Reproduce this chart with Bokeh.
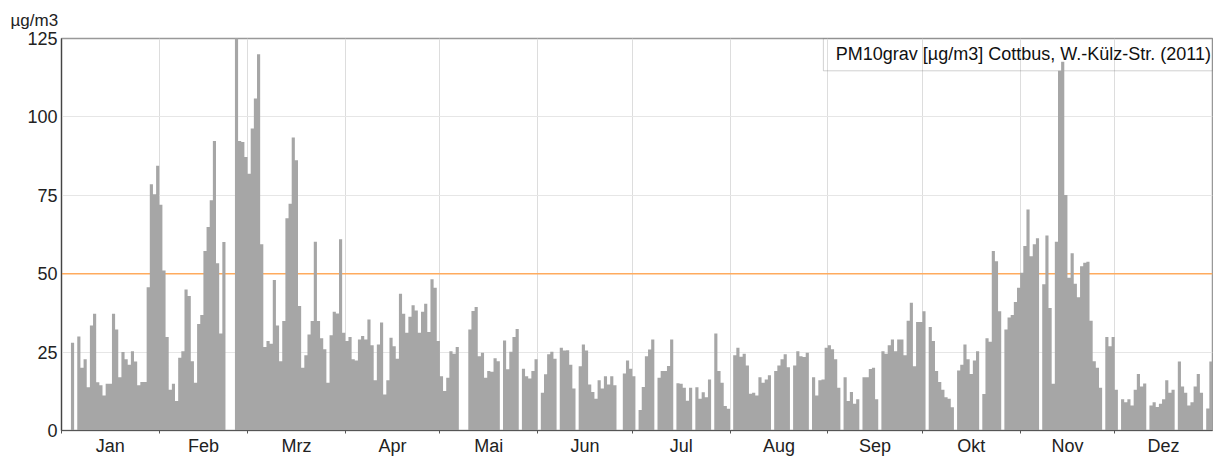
import math
from bokeh.plotting import figure
from bokeh.models import Range1d, FixedTicker, Span, BoxAnnotation, Label, ColumnDataSource
from bokeh.embed import file_html
from bokeh.resources import INLINE

nan = float("nan")

months = ["Jan", "Feb", "Mrz", "Apr", "Mai", "Jun", "Jul", "Aug", "Sep", "Okt", "Nov", "Dez"]
month_days = [31, 28, 31, 30, 31, 30, 31, 31, 30, 31, 30, 31]
y_ticks = [0, 25, 50, 75, 100, 125]
limit_value = 50

jan = [nan, nan, nan, 28, nan, 30, 20, 22.7, 13.8, 33.5, 37.2, 15.4, 14.4, 11.2, 14.9, 14.9,
       37.2, 32.2, 17, 25, 22.7, 21, 25.3, 22, 14.4, 15.5, 15.5, 45.7, 78.5, 75.3, 84.4]
feb = [72, 51, 29.8, 13, 14.9, 9.4, 23.2, 25.3, 45, 42.9, 22.1, 15.2, 34, 36.8, 57.2, 64.9,
       73.4, 92.3, 53.3, 30.9, 60.1, nan, nan, nan, 130, 92.3, 92, 87.2]
mar = [81.9, 96.3, 105.9, 120, 59.4, 26.6, 28.5, 27.7, 48, 33.5, 22.1, 34.9, 67.7, 72.3, 93.4,
       86.2, 39.7, 20, 24, 30.6, 34.9, 60.2, 34.9, 29.4, 25.9, 15.2, 30.4, 37.9, 37.3, 61, 31.2]
apr = [28.5, 29.8, 22.7, 22.3, 29, 30.1, 29, 35.4, 27.2, 16, 27.4, 34.4, 11.5, 16, 29.6, 26.9,
       22.9, 43.6, 37.2, 31.2, 36.3, 39.9, 38.3, 31.2, 37.9, 40.4, 31.4, 48.2, 45.5, 28.5]
may = [17.3, 12.6, 16.8, 25.3, 24.5, 26.6, nan, nan, nan, 32.2, 38.1, 39.4, 23.7, 24.8, 16.8,
       19, 18.7, 23, 22.1, nan, 28.7, 19.5, 25.1, 29.8, 32.4, nan, 19.7, 17.3, 16.6, 19, 22.7]
jun = [nan, 12, 17.9, 24.3, 25.1, 22.9, nan, 26.4, 25.5, 25.6, 21, 13.4, nan, 20.5, 27.4, 25.5,
       14.7, 12.3, 10.1, 16, 13.4, 17.3, 14.7, 17.3, 14.4, nan, nan, 18.2, 22.3, 19.7]
jul = [17.3, nan, 6.5, 13.9, 23.7, 25.8, 29, nan, 16.8, 19, 19, 20.6, 29, nan, 15.1, 14.9,
       13.6, 9.5, 13.6, nan, 13.8, 10.1, 12.2, 10.6, 16.3, nan, 30.9, 19, 15.2, 7.8, 6.9]
aug = [nan, 24, 26.4, 23.5, 24.5, 20.7, 11.7, 12, 11.2, 17, 15.2, 16.3, 17.6, nan, 19, 20.7,
       22.7, 24.3, 20.2, nan, 20.7, 25.3, 23.7, 23.4, 24.8, nan, 17, 11.2, 16, 16.3, 26.4]
sep = [27.2, 25.9, 22.7, 13.6, nan, 17, 9.4, 12.3, 8.5, 10, nan, 17, 17, 19.6, 20, 10, nan,
       25.3, 24.5, 27.2, 29, 25.3, 29, 29, 24, 35, 40.7, 20.5, 34.6, 34.6]
okt = [38, nan, 33, 28.5, 19, 15.5, 13, 10.6, 10.1, 7.4, nan, 19.1, 21, 27.4, 22.7, 18, 22.3,
       25.3, nan, 11.6, 29.4, 28.3, 57.2, 54, 38, nan, 32.2, 36, 36.8, 41, 45.5]
nov = [50.3, 58.8, 70.5, 55.6, 59.4, 61.3, nan, 46.6, 62.2, 39.1, 14.9, 60.2, 114.7, 117.6,
       75.1, 48.7, 56.5, 46.8, 42.5, 52.4, 53.5, 53.8, 35, 22.1, 20, 13.6, nan, 29.8, 26.9, 29.8]
dez = [13, nan, 10, 9, 10, 8, 13, 18, 14, 15, nan, 8, 9, 7.5, 8.5, 10, 16, 12, 13, nan, 22, 14,
       12, 8, 9, 14, 18, 12, nan, 7, 22]

values = jan + feb + mar + apr + may + jun + jul + aug + sep + okt + nov + dez
n_days = len(values)

starts = []
acc = 0
for d in month_days:
    starts.append(acc)
    acc += d
mids = [s + d / 2 for s, d in zip(starts, month_days)]

# one solid step-shaped polygon per run of consecutive measured days (one bar per day)
xs, ys = [], []
i = 0
while i < n_days:
    if math.isnan(values[i]):
        i += 1
        continue
    px, py = [i], [0]
    while i < n_days and not math.isnan(values[i]):
        px += [i, i + 1]
        py += [values[i], values[i]]
        i += 1
    px.append(i)
    py.append(0)
    xs.append(px)
    ys.append(py)

src = ColumnDataSource(dict(xs=xs, ys=ys))

FONT = "Liberation Sans, Arial, sans-serif"

p = figure(width=1213, height=463, x_range=Range1d(0, n_days), y_range=Range1d(0, 125),
           output_backend="svg", toolbar_location=None,
           min_border_left=61, min_border_right=1, min_border_top=38, min_border_bottom=33)

p.title.text = "µg/m3"
p.title.align = "left"
p.title.offset = -51
p.title.text_font = FONT
p.title.text_font_size = "17px"
p.title.text_font_style = "normal"
p.title.text_color = "#222222"
p.title.standoff = 17

p.outline_line_color = "#999999"
p.outline_line_width = 1.5
p.background_fill_color = "white"
p.border_fill_color = "white"

p.patches(xs="xs", ys="ys", source=src, fill_color="#a6a6a6", line_color=None)

p.add_layout(Span(location=limit_value, dimension="width", line_color="#ffab5e",
                  line_width=1.5, level="underlay"))

# y axis
p.yaxis.ticker = FixedTicker(ticks=y_ticks)
p.yaxis.major_label_text_font = FONT
p.yaxis.major_label_text_font_size = "18px"
p.yaxis.major_label_text_color = "#222222"
p.yaxis.major_tick_line_color = None
p.yaxis.major_tick_out = 0
p.yaxis.major_tick_in = 0
p.yaxis.minor_tick_line_color = None
p.yaxis.axis_line_color = "#444444"
p.yaxis.axis_line_width = 1.2
p.yaxis.major_label_standoff = 4

# x axis
p.xaxis.ticker = FixedTicker(ticks=mids, minor_ticks=starts)
p.xaxis.major_label_overrides = {m: name for m, name in zip(mids, months)}
p.xaxis.major_label_text_font = FONT
p.xaxis.major_label_text_font_size = "18px"
p.xaxis.major_label_text_color = "#222222"
p.xaxis.major_tick_line_color = None
p.xaxis.major_tick_out = 0
p.xaxis.major_tick_in = 0
p.xaxis.minor_tick_line_color = "#555555"
p.xaxis.minor_tick_out = 3
p.xaxis.minor_tick_in = 0
p.xaxis.axis_line_color = "#555555"
p.xaxis.axis_line_width = 1.2
p.xaxis.major_label_standoff = 2

# grids
p.ygrid.ticker = FixedTicker(ticks=[25, 75, 100])
p.ygrid.grid_line_color = "#e6e6e6"
p.ygrid.grid_line_width = 1.2
p.xgrid.ticker = FixedTicker(ticks=starts[1:])
p.xgrid.grid_line_color = "#dddddd"
p.xgrid.grid_line_width = 1

# legend box
p.add_layout(BoxAnnotation(left=241.6, right=n_days, bottom=114.7, top=125,
                           fill_alpha=0, line_color="#666666", line_width=1,
                           level="underlay"))
p.add_layout(Label(x=364.5, y=119.9, text="PM10grav [µg/m3] Cottbus, W.-Külz-Str. (2011)",
                   text_align="right", text_baseline="middle", text_font=FONT,
                   text_font_size="18px", text_color="#111111"))

open("out.html", "w").write(file_html(p, INLINE))
